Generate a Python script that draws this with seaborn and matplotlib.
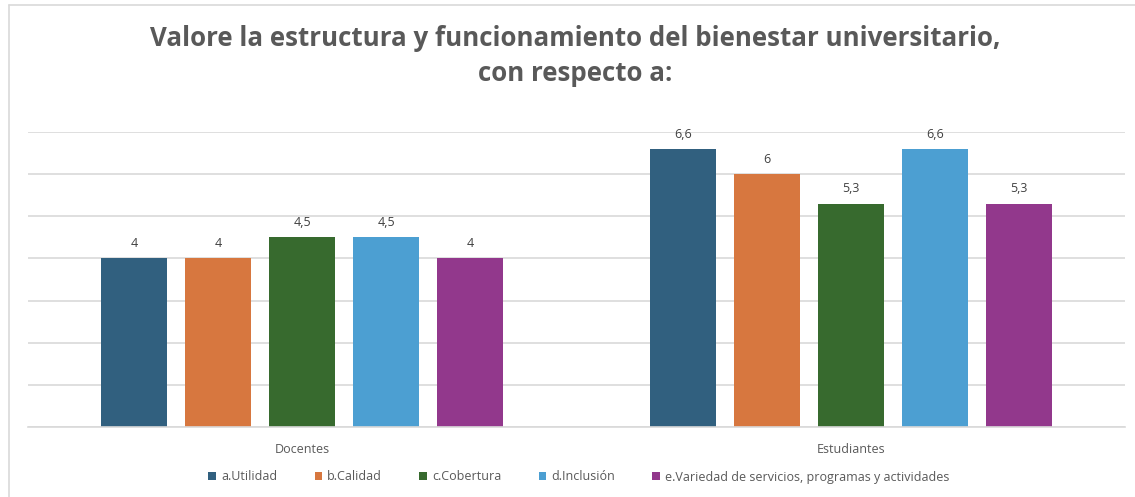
import pandas as pd
import matplotlib.pyplot as plt
import seaborn as sns
from matplotlib.lines import Line2D
from matplotlib.patches import Patch

# Data
grupos = ['Docentes', 'Estudiantes']
aspectos = ['a.Utilidad', 'b.Calidad', 'c.Cobertura', 'd.Inclusión',
            'e.Variedad de servicios, programas y actividades']
docentes = [4, 4, 4.5, 4.5, 4]
estudiantes = [6.6, 6, 5.3, 6.6, 5.3]

colores = ['#31607F', '#D7773F', '#376A2E', '#4C9FD2', '#92388C']

df = pd.DataFrame({
    'grupo': ['Docentes'] * 5 + ['Estudiantes'] * 5,
    'aspecto': aspectos * 2,
    'valor': docentes + estudiantes,
})

sns.set_style('white')
plt.rcParams['font.family'] = ['Open Sans', 'DejaVu Sans']

fig = plt.figure(figsize=(11.35, 4.97), dpi=100)
ax = fig.add_axes([28 / 1135, 1 - 427 / 497, 1097 / 1135, 295 / 497])

sns.barplot(data=df, x='grupo', y='valor', hue='aspecto', order=grupos,
            hue_order=aspectos, palette=colores, width=0.766, gap=0.214,
            saturation=1, legend=False, linewidth=0, ax=ax)

for cont in ax.containers:
    ax.bar_label(cont, labels=[f'{v:g}'.replace('.', ',') for v in cont.datavalues],
                 padding=6, fontsize=9, color='#404040')

ax.set_ylim(0, 7)
ax.set_xlim(-0.5, 1.5)
ax.set_yticks(range(0, 8))
ax.yaxis.grid(True, color='#D9D9D9', linewidth=1.2)
ax.set_axisbelow(True)
ax.tick_params(axis='y', left=False, labelleft=False)
ax.tick_params(axis='x', bottom=False, labelsize=9, labelcolor='#595959', pad=8)
ax.set_xlabel('')
ax.set_ylabel('')
for s in ['top', 'right', 'left']:
    ax.spines[s].set_visible(False)
ax.spines['bottom'].set_color('#D9D9D9')
ax.spines['bottom'].set_linewidth(1.2)

fig.text(575 / 1135, 1 - 56 / 497, 'Valore la estructura y funcionamiento del bienestar universitario,\ncon respecto a:',
         ha='center', va='center', fontsize=18.6, fontweight='bold', color='#595959',
         linespacing=1.35)

handles = [Patch(facecolor=c, edgecolor='none') for c in colores]
fig.legend(handles, aspectos, loc='center', bbox_to_anchor=(0.51, 1 - 477 / 497),
           ncol=5, frameon=False, fontsize=9, labelcolor='#595959',
           handlelength=0.6, handleheight=0.6, handletextpad=0.4, columnspacing=3.0)

# chart frame (top and left edges visible)
fig.add_artist(Line2D([9 / 1135, 9 / 1135], [0, 1 - 5 / 497], color='#D9D9D9', linewidth=1.2))
fig.add_artist(Line2D([9 / 1135, 1], [1 - 5 / 497, 1 - 5 / 497], color='#D9D9D9', linewidth=1.2))

fig.savefig('out.png', dpi=100)
